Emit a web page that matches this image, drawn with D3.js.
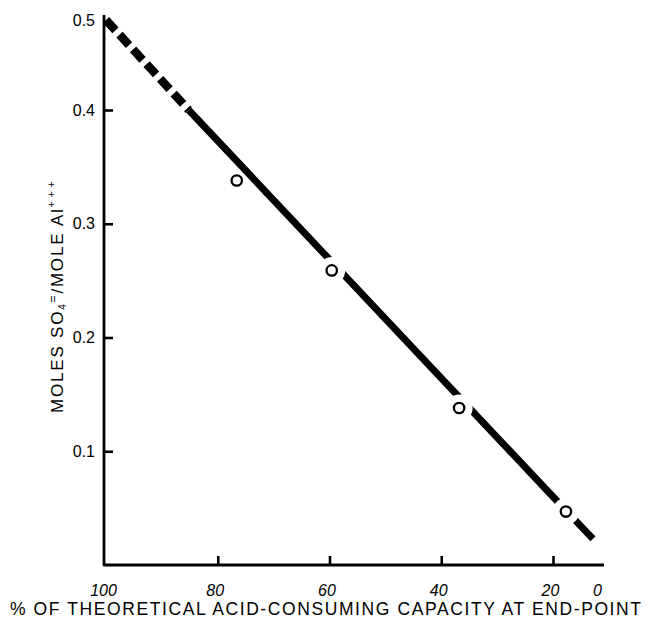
<!DOCTYPE html>
<html>
<head>
<meta charset="utf-8">
<script src="https://cdn.jsdelivr.net/npm/d3@7/dist/d3.min.js"></script>
<style>
  html, body { margin: 0; padding: 0; background: #fff; }
  svg { display: block; }
</style>
</head>
<body>
<svg id="chart" width="648" height="618"></svg>
<script>
// ---- data ----
const xTickValues = [100, 80, 60, 40, 20, 0];
const xTickLabels = ["100", "80", "60", "40", "20", "0"];
const yTickValues = [0.1, 0.2, 0.3, 0.4, 0.5];
const yTickLabels = ["0.1", "0.2", "0.3", "0.4", "0.5"];

// measured points (% capacity, moles SO4/mole Al)
const pointPct   = [76.6, 59.6, 36.8, 14.5];
const pointRatio = [0.338, 0.259, 0.138, 0.047];

// fitted line: extrapolated (dashed) part then solid part
const dashPct   = [100, 85.2];
const dashRatio = [0.5, 0.4];
const solidPct   = [85.2, 20, 3];
const solidRatio = [0.4, 0.06, 0.023];

const svg = d3.select("#chart");

// the original axes are not evenly divided at their ends (0.5 and 0)
const x = d3.scaleLinear().domain([100, 20, 0]).range([106, 553, 600]);
const y = d3.scaleLinear().domain([0, 0.4, 0.5]).range([565, 110, 20]);

const FONT = "'Liberation Sans', Arial, Helvetica, sans-serif";

// ---- axes ----
const xAxis = d3.axisBottom(x)
  .tickValues(xTickValues)
  .tickFormat((d, i) => xTickLabels[i])
  .tickSize(-9)
  .tickSizeOuter(0)
  .tickPadding(20);
const gx = svg.append("g").attr("transform", `translate(0,${y(0)})`).call(xAxis);
gx.select(".domain").remove();
gx.selectAll(".tick line")
  .attr("stroke", "#000").attr("stroke-width", 2.6)
  .attr("display", d => (d === 100 || d === 0) ? "none" : null);
gx.selectAll(".tick text")
  .attr("font-family", FONT).attr("font-size", 16).attr("font-style", "italic")
  .attr("fill", "#000").attr("dx", -3);

const yAxis = d3.axisLeft(y)
  .tickValues(yTickValues)
  .tickFormat((d, i) => yTickLabels[i])
  .tickSize(-9)
  .tickSizeOuter(0)
  .tickPadding(9);
const gy = svg.append("g").attr("transform", `translate(${x(100) - 2},0)`).call(yAxis);
gy.select(".domain").remove();
gy.selectAll(".tick line")
  .attr("stroke", "#000").attr("stroke-width", 2.6)
  .attr("display", d => d === 0.5 ? "none" : null);
gy.selectAll(".tick text")
  .attr("font-family", FONT).attr("font-size", 16).attr("fill", "#000");

// axis lines
svg.append("path")
  .attr("d", `M${x(100) - 2},${y(0.5) - 5} L${x(100) - 2},${y(0)} L${x(0) + 4},${y(0)}`)
  .attr("fill", "none").attr("stroke", "#000").attr("stroke-width", 2.8)
  .attr("stroke-linejoin", "round");

// ---- fitted line ----
const line = d3.line().x(d => x(d[0])).y(d => y(d[1]));
svg.append("path")
  .datum(dashPct.map((p, i) => [p, dashRatio[i]]))
  .attr("d", line)
  .attr("fill", "none").attr("stroke", "#000").attr("stroke-width", 8.5)
  .attr("stroke-dasharray", "14,6");
const solidPts = solidPct.map((p, i) => [p, solidRatio[i]]);
svg.append("path")
  .datum(solidPts)
  .attr("d", line)
  .attr("fill", "none").attr("stroke", "#000").attr("stroke-width", 7);

// ---- points; a white halo breaks the line where a point sits on it ----
const pts = pointPct.map((p, i) => [p, pointRatio[i]]);
function distToLine(px, py) {
  let best = Infinity;
  for (let i = 0; i < solidPts.length - 1; i++) {
    const ax = x(solidPts[i][0]), ay = y(solidPts[i][1]);
    const bx = x(solidPts[i + 1][0]), by = y(solidPts[i + 1][1]);
    const dx = bx - ax, dy = by - ay;
    let t = ((px - ax) * dx + (py - ay) * dy) / (dx * dx + dy * dy);
    t = Math.max(0, Math.min(1, t));
    best = Math.min(best, Math.hypot(px - (ax + t * dx), py - (ay + t * dy)));
  }
  return best;
}
svg.append("g").selectAll("circle")
  .data(pts.filter(d => distToLine(x(d[0]), y(d[1])) < 9))
  .join("circle")
  .attr("cx", d => x(d[0])).attr("cy", d => y(d[1])).attr("r", 13.5)
  .attr("fill", "#fff");
svg.append("g").selectAll("circle").data(pts).join("circle")
  .attr("cx", d => x(d[0])).attr("cy", d => y(d[1])).attr("r", 5.2)
  .attr("fill", "#fff").attr("stroke", "#000").attr("stroke-width", 2.3);

// ---- axis titles ----
svg.append("text")
  .attr("x", 10).attr("y", 615)
  .attr("font-family", FONT).attr("font-size", 17.5).attr("fill", "#000")
  .attr("textLength", 631).attr("lengthAdjust", "spacing")
  .text("% OF THEORETICAL ACID-CONSUMING CAPACITY AT END-POINT");

const yt = svg.append("text")
  .attr("transform", "translate(63,413) rotate(-90)")
  .attr("font-family", FONT).attr("font-size", 17).attr("letter-spacing", 1.8)
  .attr("fill", "#000");
yt.append("tspan").text("MOLES SO");
yt.append("tspan").attr("font-size", 10).attr("dy", 3).text("4");
yt.append("tspan").attr("font-size", 12).attr("dy", -9).text("=");
yt.append("tspan").attr("dy", 6).text("/MOLE Al");
yt.append("tspan").attr("font-size", 11).attr("dy", -8).attr("letter-spacing", 3.5).text("+++");
</script>
</body>
</html>
